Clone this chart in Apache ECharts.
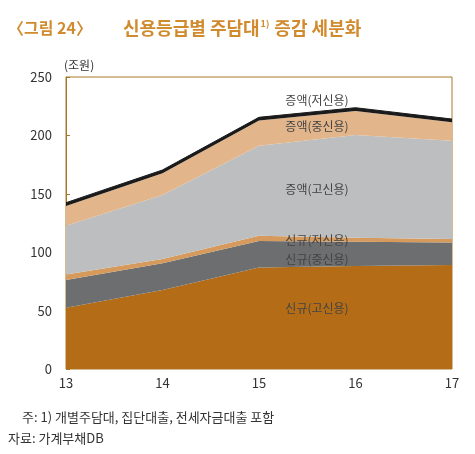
<!DOCTYPE html>
<html><head><meta charset="utf-8">
<script src="https://cdn.jsdelivr.net/npm/echarts@6/dist/echarts.min.js"></script>
<style>html,body{margin:0;padding:0;background:#fff}#c{width:475px;height:454px}</style>
</head><body><div id="c"></div>
<script>
const categories = ['13','14','15','16','17'];
const newHigh = [52.5, 67.6, 87.0, 88.2, 89.0];
const newMid = [23.7, 22.9, 22.6, 20.8, 19.2];
const newLow = [4.8, 3.7, 4.5, 3.4, 3.1];
const incHigh = [41.7, 54.8, 77.1, 87.9, 84.2];
const incMid = [16.9, 18.6, 21.5, 20.6, 15.7];
const incLow = [2.8, 2.8, 2.8, 2.8, 2.8];
const seriesNames = ['신규(고신용)','신규(중신용)','신규(저신용)','증액(고신용)','증액(중신용)','증액(저신용)'];
const seriesData = [newHigh, newMid, newLow, incHigh, incMid, incLow];
const colors = ['#b46c16','#6d6e70','#d69a5c','#bdbec0','#e2b68a','#1a1a1a'];
const yTicks = [0, 50, 100, 150, 200, 250];

const chart = echarts.init(document.getElementById('c'), null, {renderer:'canvas'});
const font = '"Noto Sans CJK KR", "Noto Sans", sans-serif';
const lbl = (t,y)=>({type:'text',x:317,y:y,z:100,style:{text:t,fill:'#444',font:'12px '+font,align:'center',verticalAlign:'middle'}});
chart.setOption({
  animation:false,
  textStyle:{fontFamily:font},
  grid:{left:66,right:23,top:77,bottom:85,show:true,borderColor:'#a8782a',borderWidth:1,backgroundColor:'transparent'},
  xAxis:{type:'category',data:categories,boundaryGap:false,
    axisLine:{show:false},axisTick:{show:false},
    axisLabel:{color:'#333',fontSize:13,margin:8,fontFamily:font}},
  yAxis:{type:'value',min:0,max:250,interval:50,
    axisLine:{show:true,lineStyle:{color:'#a8782a'}},
    axisTick:{show:true,inside:true,length:4,lineStyle:{color:'#a8782a'}},
    splitLine:{show:false},
    axisLabel:{color:'#333',fontSize:13,margin:14,fontFamily:font}},
  series: seriesNames.map((n,i)=>({
    name:n,type:'line',stack:'t',data:seriesData[i],symbol:'none',
    lineStyle:{width:i===5?1:0,color:colors[i]},
    areaStyle:{color:colors[i],opacity:1},
    itemStyle:{color:colors[i]}
  })),
  graphic:[
    {type:'text',left:8,top:20,z:100,style:{text:'〈그림 24〉',fill:'#d18b2f',font:'bold 16px '+font}},
    {type:'text',left:123,top:19,z:100,style:{text:'{a|신용등급별 주담대}{s|1)}{a| 증감 세분화}',fill:'#d18b2f',
      rich:{a:{fill:'#d18b2f',font:'bold 18px '+font},s:{fill:'#d18b2f',font:'bold 9px '+font,verticalAlign:'top',padding:[0,1,8,1]}}}},
    {type:'text',left:64,top:59,z:100,style:{text:'(조원)',fill:'#333',font:'12px '+font}},
    lbl('증액(저신용)',100), lbl('증액(중신용)',126), lbl('증액(고신용)',189),
    lbl('신규(저신용)',240), lbl('신규(중신용)',259), lbl('신규(고신용)',308),
    {type:'text',left:22,top:411,z:100,style:{text:'주: 1) 개별주담대, 집단대출, 전세자금대출 포함',fill:'#333',font:'13px '+font}},
    {type:'text',left:8,top:432,z:100,style:{text:'자료: 가계부채DB',fill:'#333',font:'13px '+font}}
  ]
});
</script></body></html>
